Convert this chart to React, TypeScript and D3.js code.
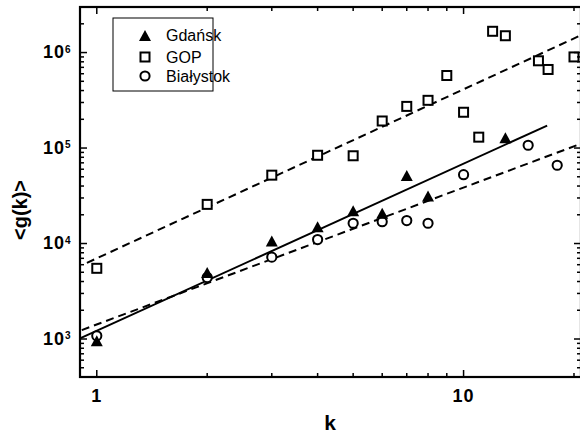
import React from 'react';
import * as d3 from 'd3';

// measured points
const gopK = [1, 2, 3, 4, 5, 6, 7, 8, 9, 10, 11, 12, 13, 16, 17, 20];
const gopG = [5500, 25700, 52000, 84000, 83000, 192000, 273000, 316000, 575000, 237000, 130000, 1670000, 1500000, 820000, 665000, 900000];

const gdanskK = [1, 2, 3, 4, 5, 6, 7, 8, 13];
const gdanskG = [950, 4900, 10500, 14800, 21800, 20500, 51000, 31000, 127000];

const bialK = [1, 2, 3, 4, 5, 6, 7, 8, 10, 15, 18];
const bialG = [1080, 4400, 7200, 11000, 16300, 16900, 17400, 16300, 52600, 107000, 66000];

// power-law fits g = a * k^b, drawn over [kFrom, kTo]
const gdanskFit = [1220, 1.75, 0.9, 16.9];
const gopFit = [7000, 1.77, 0.94, 20.9];
const bialFit = [1420, 1.434, 0.91, 20.9];

const xMajor = [1, 10];
const xMinor = [2, 3, 4, 5, 6, 7, 8, 9, 20];
const yExp = [3, 4, 5, 6];

const W = 580, H = 436;
const L = 80, R = 581, T = 7, B = 377;
const FONT = '"Liberation Sans", Arial, sans-serif';

const x = d3.scaleLog().domain([0.9, 20.9]).range([L, R]);
const y = d3.scaleLog().domain([400, 3e6]).range([B, T]);

const yMinor: number[] = [];
[2, 3, 4, 5].forEach(e => d3.range(2, 10).forEach(m => yMinor.push(m * Math.pow(10, e))));
yMinor.push(2e6, 3e6);

const fitLine = (f: number[]) => {
  const [a, b, k0, k1] = f;
  const line = d3.line<number>().x(k => x(k)).y(k => y(a * Math.pow(k, b)));
  return line([k0, k1]) || '';
};

const Square = ({ cx, cy }: { cx: number; cy: number }) => (
  <rect x={cx - 4.5} y={cy - 4.5} width={9} height={9} fill="white" stroke="black" strokeWidth={2} />
);
const Circle = ({ cx, cy }: { cx: number; cy: number }) => (
  <circle cx={cx} cy={cy} r={4.6} fill="white" stroke="black" strokeWidth={2} />
);
const Tri = ({ cx, cy }: { cx: number; cy: number }) => (
  <path d={`M${cx},${cy - 6}L${cx + 6},${cy + 5}L${cx - 6},${cy + 5}Z`} fill="black" />
);

export default function App() {
  return (
    <svg width={W} height={H} style={{ position: 'absolute', left: 0, top: 0 }} fontFamily={FONT}>
      <rect width={W} height={H} fill="white" />

      {/* fits */}
      <path d={fitLine(gopFit)} fill="none" stroke="black" strokeWidth={2} strokeDasharray="8,5" />
      <path d={fitLine(bialFit)} fill="none" stroke="black" strokeWidth={2} strokeDasharray="8,5" />
      <path d={fitLine(gdanskFit)} fill="none" stroke="black" strokeWidth={2} />

      {/* points */}
      {bialK.map((k, i) => <Circle key={'b' + i} cx={x(k)} cy={y(bialG[i])} />)}
      {gdanskK.map((k, i) => <Tri key={'g' + i} cx={x(k)} cy={y(gdanskG[i])} />)}
      {gopK.map((k, i) => <Square key={'p' + i} cx={x(k)} cy={y(gopG[i])} />)}

      {/* ticks */}
      <g stroke="black" strokeWidth={1.5}>
        {xMajor.map(k => (
          <g key={'xM' + k}>
            <line x1={x(k)} x2={x(k)} y1={B} y2={B - 7} />
            <line x1={x(k)} x2={x(k)} y1={T} y2={T + 7} />
          </g>
        ))}
        {xMinor.map(k => (
          <g key={'xm' + k}>
            <line x1={x(k)} x2={x(k)} y1={B} y2={B - 4} />
            <line x1={x(k)} x2={x(k)} y1={T} y2={T + 4} />
          </g>
        ))}
        {yExp.map(e => (
          <g key={'yM' + e}>
            <line x1={L} x2={L + 7} y1={y(Math.pow(10, e))} y2={y(Math.pow(10, e))} />
            <line x1={R} x2={R - 7} y1={y(Math.pow(10, e))} y2={y(Math.pow(10, e))} />
          </g>
        ))}
        {yMinor.filter(v => v >= 400).map(v => (
          <g key={'ym' + v}>
            <line x1={L} x2={L + 4} y1={y(v)} y2={y(v)} />
            <line x1={R} x2={R - 4} y1={y(v)} y2={y(v)} />
          </g>
        ))}
      </g>

      {/* frame */}
      <rect x={L} y={T} width={R - L} height={B - T} fill="none" stroke="black" strokeWidth={2.2} />

      {/* tick labels */}
      {xMajor.map(k => (
        <text key={'xl' + k} x={x(k)} y={B + 25} textAnchor="middle" fontSize={18} fontWeight="bold" letterSpacing={1}>{k}</text>
      ))}
      {yExp.map(e => (
        <text key={'yl' + e} x={43} y={y(Math.pow(10, e)) + 5.5} fontSize={18} fontWeight="bold" letterSpacing={1}>
          10<tspan fontSize={10} dy={-5.5} letterSpacing={0}>{e}</tspan>
        </text>
      ))}

      {/* axis titles */}
      <text x={330} y={430} textAnchor="middle" fontSize={21} fontWeight="bold">k</text>
      <text transform={`translate(27,210) rotate(-90)`} textAnchor="middle" fontSize={20} fontWeight="bold">&lt;g(k)&gt;</text>

      {/* legend */}
      <rect x={113} y={18} width={100} height={73} fill="white" stroke="black" strokeWidth={1} />
      <Tri cx={145} cy={36} />
      <Square cx={145} cy={57} />
      <Circle cx={145} cy={76} />
      <g fontSize={16}>
        <text x={166} y={41}>Gdańsk</text>
        <text x={166} y={63}>GOP</text>
        <text x={166} y={82}>Białystok</text>
      </g>
    </svg>
  );
}
